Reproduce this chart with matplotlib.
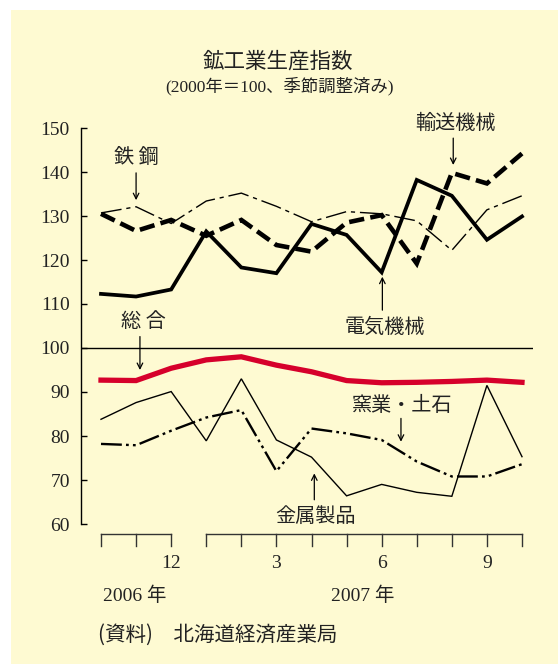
import matplotlib.pyplot as plt
from matplotlib.patches import Rectangle

plt.rcParams["lines.scale_dashes"] = False

SERIF_JP = ["Liberation Serif", "Noto Sans CJK JP"]
GOTHIC = ["Noto Sans CJK JP", "DejaVu Sans"]

# Monthly index values, Oct 2006 .. Oct 2007 (2000 = 100, seasonally adjusted)
months = [10, 11, 12, 1, 2, 3, 4, 5, 6, 7, 8, 9, 10]
month_labels = {2: "12", 5: "3", 8: "6", 11: "9"}
years = ["2006 年", "2007 年"]

sogo = [92.7, 92.6, 95.4, 97.3, 98.0, 96.1, 94.6, 92.6, 92.1, 92.2, 92.4, 92.7, 92.2]
denki = [112.3, 111.7, 113.3, 126.5, 118.3, 117.0, 128.2, 125.7, 117.2, 138.2, 134.6, 124.6, 129.9]
yuso = [130.5, 126.6, 129.1, 125.5, 129.1, 123.4, 121.9, 128.5, 130.2, 119.2, 139.8, 137.4, 144.2]
tekko = [130.7, 132.1, 128.3, 133.4, 135.2, 132.2, 128.7, 131.0, 130.5, 128.9, 122.2, 131.4, 134.6]
kinzoku = [83.8, 87.6, 90.1, 78.9, 93.0, 79.1, 75.2, 66.4, 69.0, 67.2, 66.3, 91.5, 75.3]
yogyo = [78.2, 77.9, 81.2, 84.2, 85.9, 72.0, 81.7, 80.6, 79.1, 74.2, 70.8, 70.8, 73.6]

x = list(range(len(months)))

W, H = 558, 664
fig = plt.figure(figsize=(W / 100, H / 100), dpi=100, facecolor="white")

# cream panel behind everything
fig.patches.append(Rectangle((11 / W, 0), 1, 1 - 10 / H, transform=fig.transFigure,
                             facecolor="#fefad2", edgecolor="none", zorder=-10))

ax = fig.add_axes([81 / W, 1 - 524 / H, (533 - 81) / W, (524 - 128) / H])
ax.set_facecolor("none")
ax.set_xlim(-20 / 35.08, 12 + 11 / 35.08)
ax.set_ylim(60, 150)

for side in ["top", "right", "bottom"]:
    ax.spines[side].set_visible(False)
ax.spines["left"].set_linewidth(1.0)
ax.set_xticks([])
ax.set_yticks(range(60, 151, 10))
ax.tick_params(axis="y", direction="in", length=4, width=1.0, pad=8)
for lab in ax.get_yticklabels():
    lab.set_fontfamily(SERIF_JP)
    lab.set_fontsize(14)
    lab.set_color("#222222")

ax.axhline(100, color="black", lw=1.0, zorder=1)

common = dict(solid_joinstyle="miter", dash_joinstyle="miter", color="black")
ax.plot(x, kinzoku, lw=1.0, **common)
ax.plot(x, yogyo, lw=1.7, dashes=(15, 3, 2, 3, 2, 3), dash_capstyle="butt", **common)
ax.plot(x, tekko, lw=1.0, dashes=(15, 3.5, 3, 3.5), **common)
ax.plot(x, denki, lw=2.7, **common)
ax.plot(x, yuso, lw=3.3, dashes=(11, 4.5), dash_capstyle="butt", **common)
ax.plot(x, sogo, lw=3.8, color="#d6002b", solid_joinstyle="miter", zorder=5)

# bracket-style month axis below the plot
y_line, y_tick = 57.7, 54.9
for i0, i1 in [(0, 2), (3, 12)]:
    ax.plot([i0, i1], [y_line, y_line], color="#333333", lw=1.0, clip_on=False)
    for i in range(i0, i1 + 1):
        ax.plot([i, i], [y_line, y_tick], color="#333333", lw=1.0, clip_on=False)
for i, lab in month_labels.items():
    ax.text(i, 51.1, lab, ha="center", va="center", fontsize=14,
            family=SERIF_JP, color="#222222", clip_on=False)

fig.text(135 / W, 1 - 596 / H, years[0], ha="center", va="center",
         fontsize=14, family=SERIF_JP, color="#222222")
fig.text(363 / W, 1 - 596 / H, years[1], ha="center", va="center",
         fontsize=14, family=SERIF_JP, color="#222222")

fig.text(278 / W, 1 - 62 / H, "鉱工業生産指数", ha="center", va="center",
         fontsize=15.5, family=GOTHIC, color="#222222")
fig.text(280 / W, 1 - 86 / H, "(2000年＝100、季節調整済み)", ha="center", va="center",
         fontsize=12.5, family=SERIF_JP, color="#222222")
fig.text(98 / W, 1 - 635 / H, "(資料)　北海道経済産業局", ha="left", va="center",
         fontsize=14.8, family=GOTHIC, color="#222222")

# series labels with pointer arrows
arrow = dict(arrowstyle="->", lw=0.9, color="black", shrinkA=0, shrinkB=0,
             mutation_scale=10)
labels = [
    ("鉄 鋼", (1.0, 143.2), (1.0, 139.8), (1.0, 133.6)),
    ("総 合", (1.22, 106.0), (1.11, 102.6), (1.11, 95.0)),
    ("輸送機械", (10.09, 151.1), (10.04, 147.7), (10.04, 141.6)),
    ("電気機械", (8.1, 104.8), (8.02, 108.6), (8.02, 116.2)),
    ("窯業・土石", (8.6, 87.0), (8.55, 84.0), (8.55, 78.7)),
    ("金属製品", (6.1, 61.7), (6.08, 65.5), (6.08, 71.5)),
]
for text, pos, tail, head in labels:
    ax.text(pos[0], pos[1], text, ha="center", va="center", fontsize=14.5,
            family=GOTHIC, color="#222222", clip_on=False, zorder=6)
    ax.annotate("", xy=head, xytext=tail, arrowprops=arrow, annotation_clip=False)

fig.savefig("out.png", dpi=100, facecolor="white")
